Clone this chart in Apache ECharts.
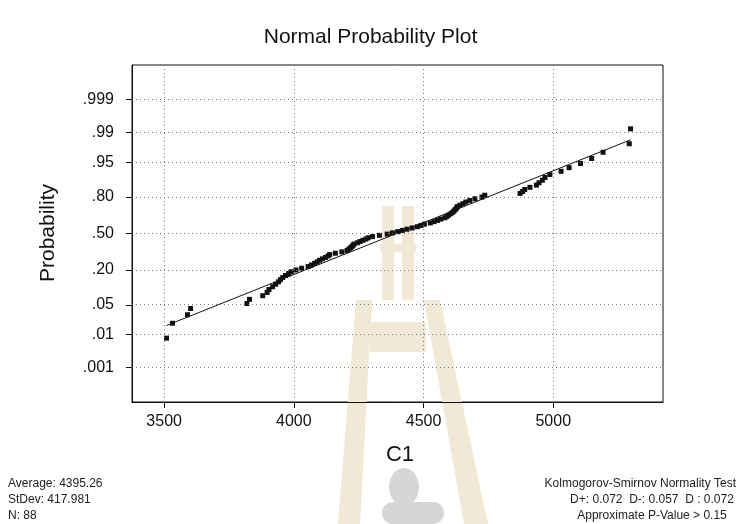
<!DOCTYPE html>
<html>
<head>
    <meta charset="utf-8">
    <title>Normal Probability Plot</title>
    <script src="https://cdn.jsdelivr.net/npm/echarts@6/dist/echarts.min.js"></script>
</head>
<body style="margin:0;background:#fff;">
    <div id="main" style="width:741px;height:524px;"></div>
    <script type="text/javascript">
        // C1 values, sorted
        var c1 = [3509, 3532, 3590, 3602, 3819, 3829, 3880, 3897, 3904, 3918,
                  3930, 3941, 3948, 3957, 3968, 3980, 3990, 4008, 4030, 4055,
                  4068, 4080, 4090, 4099, 4110, 4122, 4132, 4138, 4160, 4185,
                  4205, 4212, 4218, 4224, 4228, 4232, 4245, 4255, 4266, 4278,
                  4286, 4303, 4330, 4360, 4380, 4400, 4418, 4436, 4456, 4476,
                  4490, 4503, 4526, 4540, 4554, 4566, 4582, 4590, 4596, 4605,
                  4612, 4617, 4622, 4627, 4630, 4640, 4652, 4663, 4678, 4698,
                  4725, 4736, 4872, 4882, 4890, 4910, 4935, 4945, 4958, 4968,
                  4987, 5030, 5061, 5105, 5148, 5192, 5293, 5298];
        var average = 4395.26;
        var stdev = 417.981;
        var xTicks = [3500, 4000, 4500, 5000];
        var probTicks = [0.001, 0.01, 0.05, 0.20, 0.50, 0.80, 0.95, 0.99, 0.999];
        var probLabels = ['.001', '.01', '.05', '.20', '.50', '.80', '.95', '.99', '.999'];

        // inverse normal cdf (Acklam), used for the probability scale
        function qnorm(p) {
            var a = [-3.969683028665376e+01, 2.209460984245205e+02, -2.759285104469687e+02, 1.383577518672690e+02, -3.066479806614716e+01, 2.506628277459239e+00];
            var b = [-5.447609879822406e+01, 1.615858368580409e+02, -1.556989798598866e+02, 6.680131188771972e+01, -1.328068155288572e+01];
            var c = [-7.784894002430293e-03, -3.223964580411365e-01, -2.400758277161838e+00, -2.549732539343734e+00, 4.374664141464968e+00, 2.938163982698783e+00];
            var d = [7.784695709041462e-03, 3.224671290700398e-01, 2.445134137142996e+00, 3.754408661907416e+00];
            var plow = 0.02425, q, r;
            if (p < plow) {
                q = Math.sqrt(-2 * Math.log(p));
                return (((((c[0]*q+c[1])*q+c[2])*q+c[3])*q+c[4])*q+c[5]) / ((((d[0]*q+d[1])*q+d[2])*q+d[3])*q+1);
            }
            if (p > 1 - plow) {
                q = Math.sqrt(-2 * Math.log(1 - p));
                return -(((((c[0]*q+c[1])*q+c[2])*q+c[3])*q+c[4])*q+c[5]) / ((((d[0]*q+d[1])*q+d[2])*q+d[3])*q+1);
            }
            q = p - 0.5; r = q * q;
            return (((((a[0]*r+a[1])*r+a[2])*r+a[3])*r+a[4])*r+a[5])*q / (((((b[0]*r+b[1])*r+b[2])*r+b[3])*r+b[4])*r+1);
        }

        var zTicks = probTicks.map(qnorm);
        var n = c1.length;
        // plotting positions (median ranks)
        var points = c1.map(function (v, i) {
            return [v, qnorm((i + 1 - 0.3) / (n + 0.4))];
        });
        var xmin = c1[0], xmax = c1[n - 1];
        var fit = [[xmin, (xmin - average) / stdev], [xmax, (xmax - average) / stdev]];

        var gridLines = [];
        xTicks.forEach(function (v) { gridLines.push({ xAxis: v }); });
        zTicks.forEach(function (v) { gridLines.push({ yAxis: v }); });

        var font = 'Liberation Sans, Arial, sans-serif';
        var wm = '#f1e8d6';
        var wmGray = '#d6d6d6';

        var myChart = echarts.init(document.getElementById('main'));
        var option = {
            animation: false,
            title: {
                text: 'Normal Probability Plot',
                left: 'center',
                top: 22,
                textStyle: { fontSize: 21, fontWeight: 'normal', color: '#111', fontFamily: font }
            },
            grid: {
                left: 132, right: 78, top: 65, bottom: 122,
                show: true, borderColor: '#111', borderWidth: 1
            },
            xAxis: {
                type: 'value',
                min: 3376, max: 5423,
                axisLine: { show: true, onZero: false, lineStyle: { color: '#111' } },
                axisTick: { show: true, length: 6, customValues: xTicks, lineStyle: { color: '#111' } },
                axisLabel: {
                    customValues: xTicks, fontSize: 16, color: '#111', margin: 12, fontFamily: font,
                    formatter: function (val) { return String(val); }
                },
                splitLine: { show: false }
            },
            yAxis: {
                type: 'value',
                min: -3.885, max: 3.885,
                axisLine: { show: true, onZero: false, lineStyle: { color: '#111' } },
                axisTick: { show: true, length: 6, customValues: zTicks, lineStyle: { color: '#111' } },
                axisLabel: {
                    customValues: zTicks, fontSize: 16, color: '#111', margin: 18, fontFamily: font,
                    formatter: function (val) {
                        var best = 0;
                        for (var i = 1; i < zTicks.length; i++) {
                            if (Math.abs(zTicks[i] - val) < Math.abs(zTicks[best] - val)) best = i;
                        }
                        return probLabels[best];
                    }
                },
                splitLine: { show: false }
            },
            graphic: [
                // faint watermark behind the plot
                { type: 'polygon', z: 0, silent: true, shape: { points: [[382, 206], [394, 206], [394, 300], [382, 300]] }, style: { fill: wm } },
                { type: 'polygon', z: 0, silent: true, shape: { points: [[402, 206], [414, 206], [414, 300], [402, 300]] }, style: { fill: wm } },
                { type: 'polygon', z: 0, silent: true, shape: { points: [[356, 300], [372, 300], [360, 524], [338, 524]] }, style: { fill: wm } },
                { type: 'polygon', z: 0, silent: true, shape: { points: [[424, 300], [440, 300], [488, 524], [464, 524]] }, style: { fill: wm } },
                { type: 'rect', z: 0, silent: true, shape: { x: 370, y: 322, width: 56, height: 30 }, style: { fill: wm } },
                { type: 'rect', z: 0, silent: true, shape: { x: 380, y: 244, width: 36, height: 8 }, style: { fill: wm } },
                { type: 'ellipse', z: 0, silent: true, shape: { cx: 404, cy: 487, rx: 15, ry: 19 }, style: { fill: wmGray } },
                { type: 'rect', z: 0, silent: true, shape: { x: 382, y: 502, width: 62, height: 22, r: 12 }, style: { fill: wmGray } },
                {
                    type: 'text', x: 48, y: 233, rotation: Math.PI / 2,
                    style: { text: 'Probability', font: '21px ' + font, fill: '#111', textAlign: 'center', textVerticalAlign: 'middle' }
                },
                { type: 'text', x: 400, y: 455, style: { text: 'C1', font: '22px ' + font, fill: '#111', textAlign: 'center', textVerticalAlign: 'middle' } },
                { type: 'text', x: 8, y: 484, style: { text: 'Average: 4395.26', font: '12px ' + font, fill: '#222', textVerticalAlign: 'middle' } },
                { type: 'text', x: 8, y: 500, style: { text: 'StDev: 417.981', font: '12px ' + font, fill: '#222', textVerticalAlign: 'middle' } },
                { type: 'text', x: 8, y: 516, style: { text: 'N: 88', font: '12px ' + font, fill: '#222', textVerticalAlign: 'middle' } },
                { type: 'text', x: 736, y: 484, style: { text: 'Kolmogorov-Smirnov Normality Test', font: '12px ' + font, fill: '#222', textAlign: 'right', textVerticalAlign: 'middle' } },
                { type: 'text', x: 652, y: 500, style: { text: 'D+: 0.072  D-: 0.057  D : 0.072', font: '12px ' + font, fill: '#222', textAlign: 'center', textVerticalAlign: 'middle' } },
                { type: 'text', x: 652, y: 516, style: { text: 'Approximate P-Value > 0.15', font: '12px ' + font, fill: '#222', textAlign: 'center', textVerticalAlign: 'middle' } }
            ],
            series: [
                {
                    type: 'line',
                    data: fit,
                    symbol: 'none',
                    z: 3,
                    lineStyle: { color: '#111', width: 1 },
                    markLine: {
                        silent: true,
                        symbol: ['none', 'none'],
                        label: { show: false },
                        lineStyle: { color: '#777', type: [1, 3], width: 1 },
                        data: gridLines
                    }
                },
                {
                    type: 'scatter',
                    data: points,
                    symbol: 'rect',
                    symbolSize: 5,
                    z: 4,
                    itemStyle: { color: '#111', opacity: 1 }
                }
            ]
        };
        myChart.setOption(option);
    </script>
</body>
</html>
